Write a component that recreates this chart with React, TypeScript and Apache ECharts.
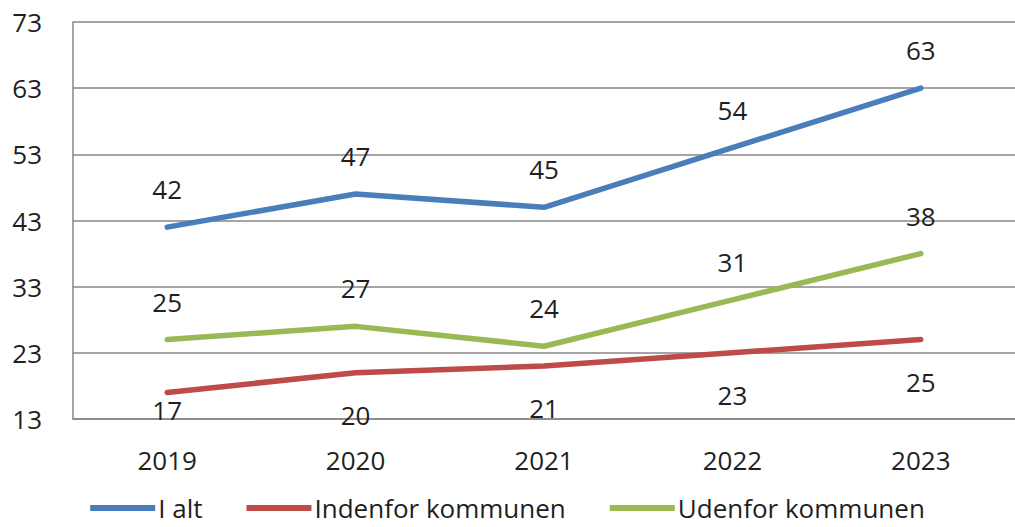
import React, { useEffect, useRef } from "react";
import * as echarts from "echarts";

const years = ["2019", "2020", "2021", "2022", "2023"];
const iAlt = [42, 47, 45, 54, 63];
const indenfor = [17, 20, 21, 23, 25];
const udenfor = [25, 27, 24, 31, 38];
const seriesNames = ["I alt", "Indenfor kommunen", "Udenfor kommunen"];
const colors = ["#4A7EBB", "#BE4B48", "#98B954"];

const FONT = "'Open Sans', 'Noto Sans', sans-serif";
const TEXT = "#1f1f1f";
const FS = 26;

export default function App() {
  const ref = useRef<HTMLDivElement>(null);
  useEffect(() => {
    if (!ref.current) return;
    document.body.style.margin = "0";
    document.body.style.overflow = "hidden";
    const chart = echarts.init(ref.current, null, { renderer: "svg" });
    const mk = (name: string, data: number[], color: string, pos: "top" | "bottom") => ({
      name,
      type: "line",
      data: data.map((v, i) =>
        pos === "bottom" && i === 0
          ? { value: v, label: { distance: 4 } }
          : v
      ),
      symbol: "circle",
      symbolSize: 0,
      showSymbol: true,
      lineStyle: { color, width: 5.5, cap: "round" },
      itemStyle: { color },
      label: {
        show: true,
        position: pos,
        distance: pos === "top" ? 25 : 29,
        color: TEXT,
        fontSize: FS,
        fontFamily: FONT,
      },
      emphasis: { disabled: true },
    });
    chart.setOption({
      animation: false,
      backgroundColor: "#fff",
      grid: { left: 73, right: -10, top: 22, bottom: 108, containLabel: false },
      xAxis: {
        type: "category",
        data: years,
        boundaryGap: true,
        axisLine: { show: true, lineStyle: { color: "#868686", width: 1.5 } },
        axisTick: { show: false },
        axisLabel: { color: TEXT, fontSize: FS, fontFamily: FONT, margin: 28 },
      },
      yAxis: {
        type: "value",
        min: 13,
        max: 73,
        interval: 10,
        axisLine: { show: true, lineStyle: { color: "#868686", width: 1.5 } },
        axisTick: { show: false },
        splitLine: { show: true, lineStyle: { color: "#868686", width: 1.5 } },
        axisLabel: { color: TEXT, fontSize: FS, fontFamily: FONT, margin: 31 },
      },
      legend: {
        top: 494,
        left: "center",
        padding: 0,
        icon: "rect",
        itemWidth: 65,
        itemHeight: 6,
        itemGap: 44,
        textStyle: {
          color: TEXT,
          fontSize: FS,
          lineHeight: 28,
          fontFamily: FONT,
          padding: [0, 0, 0, -2],
        },
        data: seriesNames,
      },
      series: [
        mk(seriesNames[0], iAlt, colors[0], "top"),
        mk(seriesNames[1], indenfor, colors[1], "bottom"),
        mk(seriesNames[2], udenfor, colors[2], "top"),
      ],
    });
    return () => chart.dispose();
  }, []);
  return <div ref={ref} style={{ width: 1015, height: 527 }} />;
}
